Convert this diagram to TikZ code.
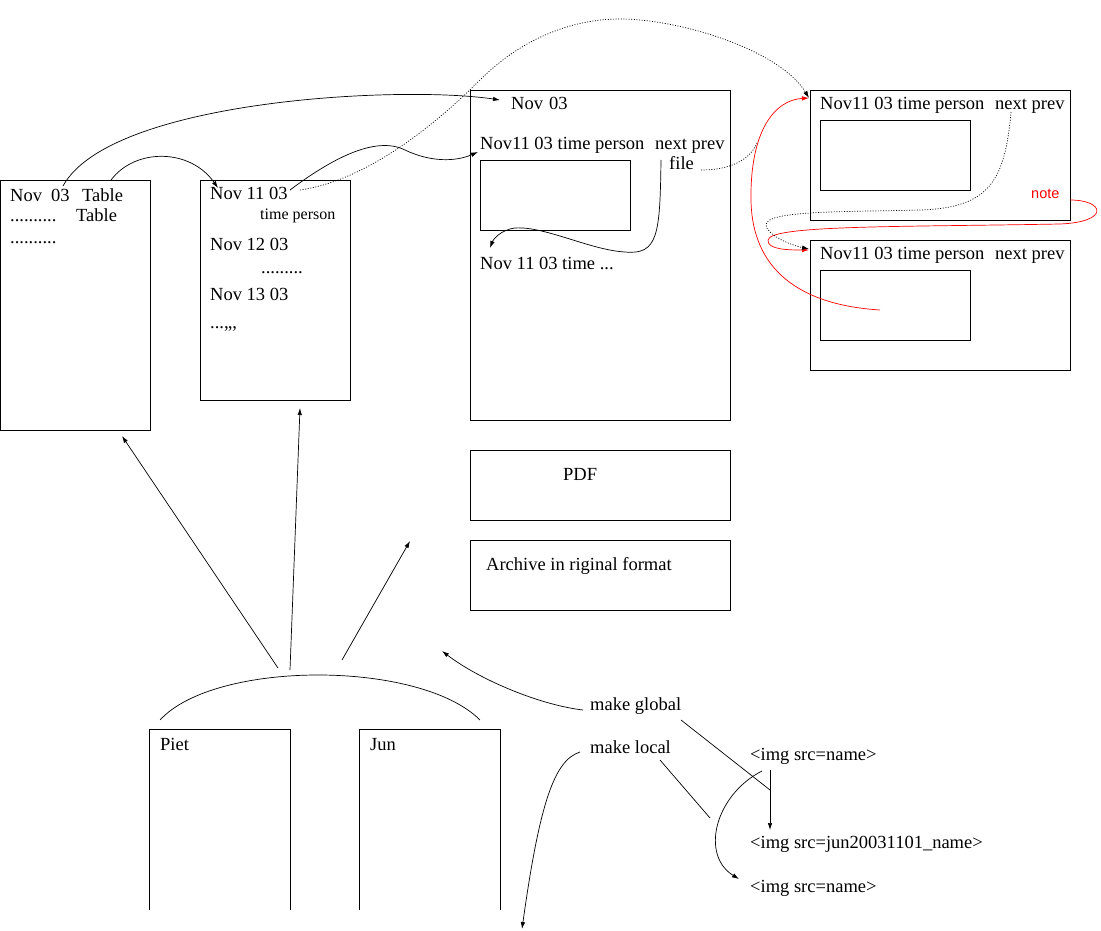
\documentclass[tikz,border=0pt]{standalone}
\usepackage{fontspec}
\setmainfont{Liberation Serif}
\newfontfamily\notefont{Liberation Sans}
\usetikzlibrary{arrows.meta}
\begin{document}
\begin{tikzpicture}[x=1pt,y=-1pt,
  frame/.style={draw, line width=0.8pt, inner sep=0pt, outer sep=0pt},
  txt/.style={inner sep=0pt, anchor=base west, font=\fontsize{18.5}{20}\selectfont},
  smalltxt/.style={inner sep=0pt, anchor=base west, font=\fontsize{16}{18}\selectfont},
  notetxt/.style={inner sep=0pt, anchor=base west, text=red, font=\notefont\fontsize{14.5}{16}\selectfont},
  conn/.style={line width=0.7pt},
  tip/.style={-{Latex[length=7pt,width=4.5pt]}},
  arr/.style={conn, tip},
  dotc/.style={conn, dash pattern=on 1pt off 1.6pt},
  redc/.style={conn, red},
]
\useasboundingbox (0,0) rectangle (1101,931);

% ---------- boxes ----------
\node[frame, minimum width=150, minimum height=250] (boxA) at (75,305) {};
\node[frame, minimum width=150, minimum height=220] (boxB) at (275,290) {};
\node[frame, minimum width=260, minimum height=330] (boxC) at (600,255) {};
\node[frame, minimum width=150, minimum height=70] (innerC) at (555,195) {};
\node[frame, minimum width=260, minimum height=70] (pdf) at (600,485) {};
\node[frame, minimum width=260, minimum height=70] (archive) at (600,575) {};
\node[frame, minimum width=260, minimum height=130] (boxD) at (940,155) {};
\node[frame, minimum width=150, minimum height=70] (innerD) at (895,155) {};
\node[frame, minimum width=260, minimum height=130] (boxE) at (940,305) {};
\node[frame, minimum width=150, minimum height=70] (innerE) at (895,305) {};
\node[inner sep=0pt, minimum width=140, minimum height=180] (piet) at (220,820) {};
\node[inner sep=0pt, minimum width=140, minimum height=180] (jun) at (430,820) {};
\draw[line width=0.8pt] (piet.south west) -- (piet.north west) -- (piet.north east) -- (piet.south east);
\draw[line width=0.8pt] (jun.south west) -- (jun.north west) -- (jun.north east) -- (jun.south east);

% ---------- texts ----------
\node[txt] (a1) at (10,201) {Nov\hspace{9pt}03};
\node[txt] (a2) at (82,201) {Table};
\node[txt] (a3) at (10,222) {..........};
\node[txt] (a4) at (76,222) {Table};
\node[txt] (a5) at (10,243) {..........};

\node[txt] (b1) at (210,200) {Nov 11 03};
\node[smalltxt] (b2) at (260,219) {time person};
\node[txt] (b3) at (210,250) {Nov 12 03};
\node[txt] (b4) at (261,273) {.........};
\node[txt] (b5) at (210,300) {Nov 13 03};
\node[txt] (b6) at (210,328) {...,,,};

\node[txt] (c1) at (511,110) {Nov\hspace{6pt}03};
\node[txt] (c2) at (480,150) {Nov11 03 time person};
\node[txt] (c3) at (655,150) {next prev};
\node[txt] (c4) at (669,170) {file};
\node[txt] (c5) at (480,269) {Nov 11 03 time ...};

\node[txt] (pdft) at (563,480) {PDF};
\node[txt] (archt) at (486,570) {Archive in riginal format};

\node[txt] (d1) at (820,110) {Nov11 03 time person};
\node[txt] (d2) at (995,110) {next prev};
\node[notetxt] (note) at (1031,199) {note};
\node[txt] (e1) at (820,259) {Nov11 03 time person};
\node[txt] (e2) at (995,259) {next prev};

\node[txt] (pietT) at (160,750) {Piet};
\node[txt] (junT) at (370,750) {Jun};

\node[txt] (mg) at (590,710) {make global};
\node[txt] (ml) at (590,753) {make local};
\node[txt] (img1) at (750,760) {<img src=name>};
\node[txt] (img2) at (750,848) {<img src=jun20031101\_name>};
\node[txt] (img3) at (750,892) {<img src=name>};

% ---------- connector end points ----------
\coordinate (pA1) at (63,186);
\coordinate (pC1) at (500,100);
\coordinate (pA2) at (111,180);
\coordinate (pB1) at (218,188);
\coordinate (pB2) at (290,190);
\coordinate (pC2) at (478,152);
\coordinate (pB3) at (300,190);
\coordinate (pD1) at (809,98);
\coordinate (pF1) at (701,170);
\coordinate (pF2) at (757,143);
\coordinate (pE1) at (880,310);
\coordinate (pN1) at (1070,200);
\coordinate (pE2) at (809,250);
\coordinate (pD2) at (1011,112);
\coordinate (pE3) at (809,249);
\coordinate (pC3) at (661,160);
\coordinate (pC4) at (490,248);

\coordinate (arcL) at (160,720);
\coordinate (arcR) at (480,720);
\coordinate (s1) at (278,668);
\coordinate (t1) at (122,436);
\coordinate (s2) at (290,670);
\coordinate (t2) at (300,408);
\coordinate (s3) at (342,660);
\coordinate (t3) at (410,541);
\coordinate (mgS) at (583,710);
\coordinate (mgT) at (442,651);
\coordinate (mgL1) at (681,720);
\coordinate (mgL2) at (770,790);
\coordinate (vS) at (770,770);
\coordinate (vT) at (770,830);
\coordinate (mlL1) at (660,760);
\coordinate (mlL2) at (710,818);
\coordinate (cvS) at (762,771);
\coordinate (cvT) at (739,879);
\coordinate (mlS) at (580,752);
\coordinate (mlT) at (522,929);

% ---------- top connectors ----------
\draw[arr] (pA1) .. controls (110,100) and (400,85) .. (pC1);
\draw[arr] (pA2) .. controls (135,148) and (190,148) .. (pB1);
\draw[arr] (pB2) .. controls (330,160) and (375,135) .. (405,150)
                 .. controls (430,162) and (455,162) .. (pC2);
\draw[dotc, tip] (pB3) .. controls (370,180) and (440,120) .. (480,80)
                 .. controls (520,40) and (570,19) .. (620,19)
                 .. controls (680,19) and (780,50) .. (pD1);
\draw[dotc] (pF1) .. controls (730,170) and (750,160) .. (pF2);
\draw[redc, -{Latex[length=7pt,width=4.5pt]}] (pE1) .. controls (800,305) and (752,270) .. (751,200)
                 .. controls (750,130) and (775,100) .. (pD1);
\draw[redc, -{Latex[length=7pt,width=4.5pt]}] (pN1) .. controls (1105,200) and (1110,222) .. (1060,224)
                 .. controls (900,227) and (770,225) .. (768,240)
                 .. controls (767,250) and (790,250) .. (pE2);
\draw[dotc, tip] (pD2) .. controls (1005,180) and (990,208) .. (920,210)
                 .. controls (850,212) and (765,210) .. (766,225)
                 .. controls (767,235) and (790,245) .. (pE3);
\draw[arr] (pC3) .. controls (660,235) and (658,255) .. (625,252)
                 .. controls (590,250) and (545,226) .. (515,228)
                 .. controls (500,230) and (493,240) .. (pC4);

% ---------- bottom connectors ----------
\draw[conn] (arcL) .. controls (215,660) and (420,660) .. (arcR);
\draw[arr] (s1) -- (t1);
\draw[arr] (s2) -- (t2);
\draw[arr] (s3) -- (t3);
\draw[arr] (mgS) .. controls (540,705) and (480,680) .. (mgT);
\draw[conn] (mgL1) -- (mgL2);
\draw[arr] (vS) -- (vT);
\draw[conn] (mlL1) -- (mlL2);
\draw[arr] (cvS) .. controls (715,795) and (700,855) .. (cvT);
\draw[arr] (mlS) .. controls (555,760) and (540,800) .. (mlT);
\end{tikzpicture}
\end{document}
